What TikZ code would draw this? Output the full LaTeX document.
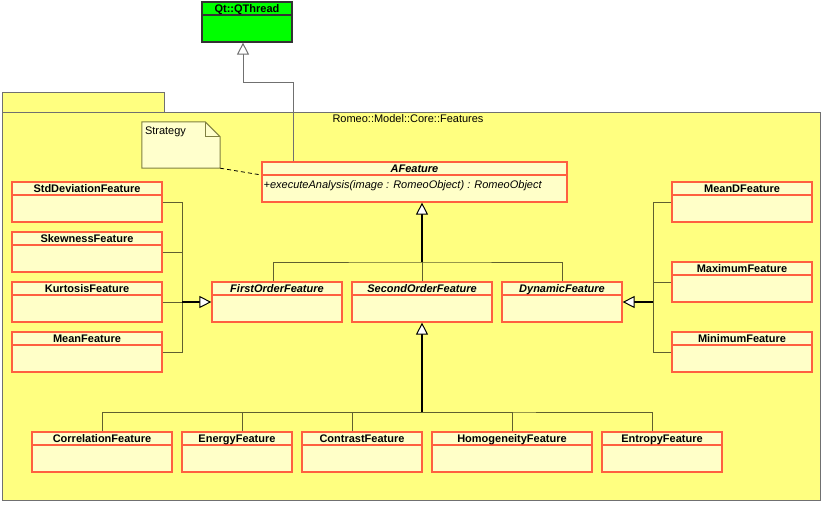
\documentclass[tikz,border=0pt]{standalone}
\usepackage{fontspec}
\setmainfont{Liberation Sans}
\usetikzlibrary{arrows.meta}

\definecolor{pkgfill}{RGB}{255,255,128}
\definecolor{pkgline}{RGB}{112,112,112}
\definecolor{clsfill}{RGB}{255,255,200}
\definecolor{clsline}{RGB}{255,96,64}
\definecolor{notefill}{RGB}{255,255,204}
\definecolor{noteline}{RGB}{128,128,64}
\definecolor{connline}{RGB}{96,96,48}
\definecolor{thrfill}{RGB}{0,255,0}

\tikzset{
  cls/.style={rectangle, draw=clsline, fill=clsfill, line width=1.2pt,
    minimum height=40pt, inner sep=0pt,
    path picture={\draw[clsline, line width=1.2pt]
      ([yshift=-13pt]path picture bounding box.north west) --
      ([yshift=-13pt]path picture bounding box.north east);}},
  ttl/.style={anchor=base, yshift=-11pt, inner sep=0pt,
    font=\bfseries\fontsize{11}{13}\selectfont},
  attl/.style={ttl, font=\bfseries\itshape\fontsize{11}{13}\selectfont},
  conn/.style={draw=connline, line width=1pt},
  gen/.style={draw=black, line width=1.5pt,
    -{Triangle[length=12pt, width=12pt, fill=white, line width=1pt]}},
}

\begin{document}
\begin{tikzpicture}[x=1pt, y=-1pt, font=\fontsize{11}{13}\selectfont]
  \useasboundingbox (0,0) rectangle (826,506);

  % package
  \draw[pkgline, fill=pkgfill, line width=1pt] (2,92) rectangle (164,112);
  \draw[pkgline, fill=pkgfill, line width=1pt] (2,112) rectangle (820,500);
  \node[anchor=base, inner sep=0pt] (pkgname) at (408,122) {Romeo::Model::Core::Features};

  % base class outside the package
  \node[cls, draw=black!80, fill=thrfill, minimum width=90pt,
        path picture={\draw[black!80, line width=1.2pt]
          ([yshift=-13pt]path picture bounding box.north west) --
          ([yshift=-13pt]path picture bounding box.north east);},
        label={[ttl]north:Qt::QThread}] (qthread) at (247,22) {};

  % note
  \node[minimum width=78pt, minimum height=46pt, inner sep=0pt] (strategy) at (181,145) {};
  \draw[noteline, fill=notefill, line width=1pt] (strategy.north west)
    -- ([xshift=-15pt]strategy.north east) -- ([yshift=-15pt]strategy.north east)
    -- (strategy.south east) -- (strategy.south west) -- cycle;
  \draw[noteline, line width=1pt] ([xshift=-15pt]strategy.north east)
    |- ([yshift=-15pt]strategy.north east);
  \node[anchor=base west, inner sep=0pt] (strategytxt) at ([xshift=3pt,yshift=-13pt]strategy.north west) {Strategy};

  % abstract feature
  \node[cls, minimum width=305pt, label={[attl]north:AFeature},
        label={[anchor=base west, inner sep=0pt, xshift=2pt, yshift=-6pt,
                font=\itshape\fontsize{11}{13}\selectfont]west:+executeAnalysis(image : RomeoObject) : RomeoObject}]
        (afeature) at (414.5,182) {};

  % first level
  \node[cls, minimum width=130pt, label={[attl]north:FirstOrderFeature}] (first) at (277,302) {};
  \node[cls, minimum width=140pt, label={[attl]north:SecondOrderFeature}] (second) at (422,302) {};
  \node[cls, minimum width=120pt, label={[attl]north:DynamicFeature}] (dynamic) at (562,302) {};

  % first order features
  \node[cls, minimum width=150pt, label={[ttl]north:StdDeviationFeature}] (stddev) at (87,202) {};
  \node[cls, minimum width=150pt, label={[ttl]north:SkewnessFeature}] (skew) at (87,252) {};
  \node[cls, minimum width=150pt, label={[ttl]north:KurtosisFeature}] (kurt) at (87,302) {};
  \node[cls, minimum width=150pt, label={[ttl]north:MeanFeature}] (mean) at (87,352) {};

  % dynamic features
  \node[cls, minimum width=140pt, label={[ttl]north:MeanDFeature}] (meand) at (742,202) {};
  \node[cls, minimum width=140pt, label={[ttl]north:MaximumFeature}] (maximum) at (742,282) {};
  \node[cls, minimum width=140pt, label={[ttl]north:MinimumFeature}] (minimum) at (742,352) {};

  % second order features
  \node[cls, minimum width=140pt, label={[ttl]north:CorrelationFeature}] (corr) at (102,452) {};
  \node[cls, minimum width=110pt, label={[ttl]north:EnergyFeature}] (energy) at (237,452) {};
  \node[cls, minimum width=120pt, label={[ttl]north:ContrastFeature}] (contrast) at (362,452) {};
  \node[cls, minimum width=160pt, label={[ttl]north:HomogeneityFeature}] (homog) at (512,452) {};
  \node[cls, minimum width=120pt, label={[ttl]north:EntropyFeature}] (entropy) at (662,452) {};

  % junctions
  \coordinate (qbend) at (243,82);
  \coordinate (tjoin) at (422,262);
  \coordinate (ljoin) at (182,302);
  \coordinate (rjoin) at (653,302);
  \coordinate (bjoin) at (422,412);

  % links
  \draw[draw=pkgline, line width=1pt,
        -{Triangle[length=12pt, width=12pt, fill=white, line width=1pt]}]
    ([xshift=-121.5pt]afeature.north) |- (qbend) -- (qbend |- qthread.south);
  \draw[black, line width=0.8pt, dash pattern=on 4pt off 3pt]
    (strategy.south east) -- ([yshift=7pt]afeature.west);

  \draw[conn] ([xshift=-4pt]first.north) |- (tjoin) -| (dynamic.north);
  \draw[conn] (second.north) -- (tjoin);
  \draw[gen] (tjoin) -- (tjoin |- afeature.south);

  \draw[conn] (stddev.east) -| (ljoin);
  \draw[conn] (skew.east) -| (ljoin);
  \draw[conn] (kurt.east) -- (ljoin);
  \draw[conn] (mean.east) -| (ljoin);
  \draw[gen] (ljoin) -- (first.west);

  \draw[conn] (meand.west) -| (rjoin);
  \draw[conn] (maximum.west) -| (rjoin);
  \draw[conn] (minimum.west) -| (rjoin);
  \draw[gen] (rjoin) -- (dynamic.east);

  \draw[conn] (corr.north) |- (bjoin) -| ([xshift=-10pt]entropy.north);
  \draw[conn] ([xshift=5pt]energy.north) |- (bjoin);
  \draw[conn] ([xshift=-10pt]contrast.north) |- (bjoin);
  \draw[conn] (homog.north) |- (bjoin);
  \draw[gen] (bjoin) -- (second.south);
\end{tikzpicture}
\end{document}
